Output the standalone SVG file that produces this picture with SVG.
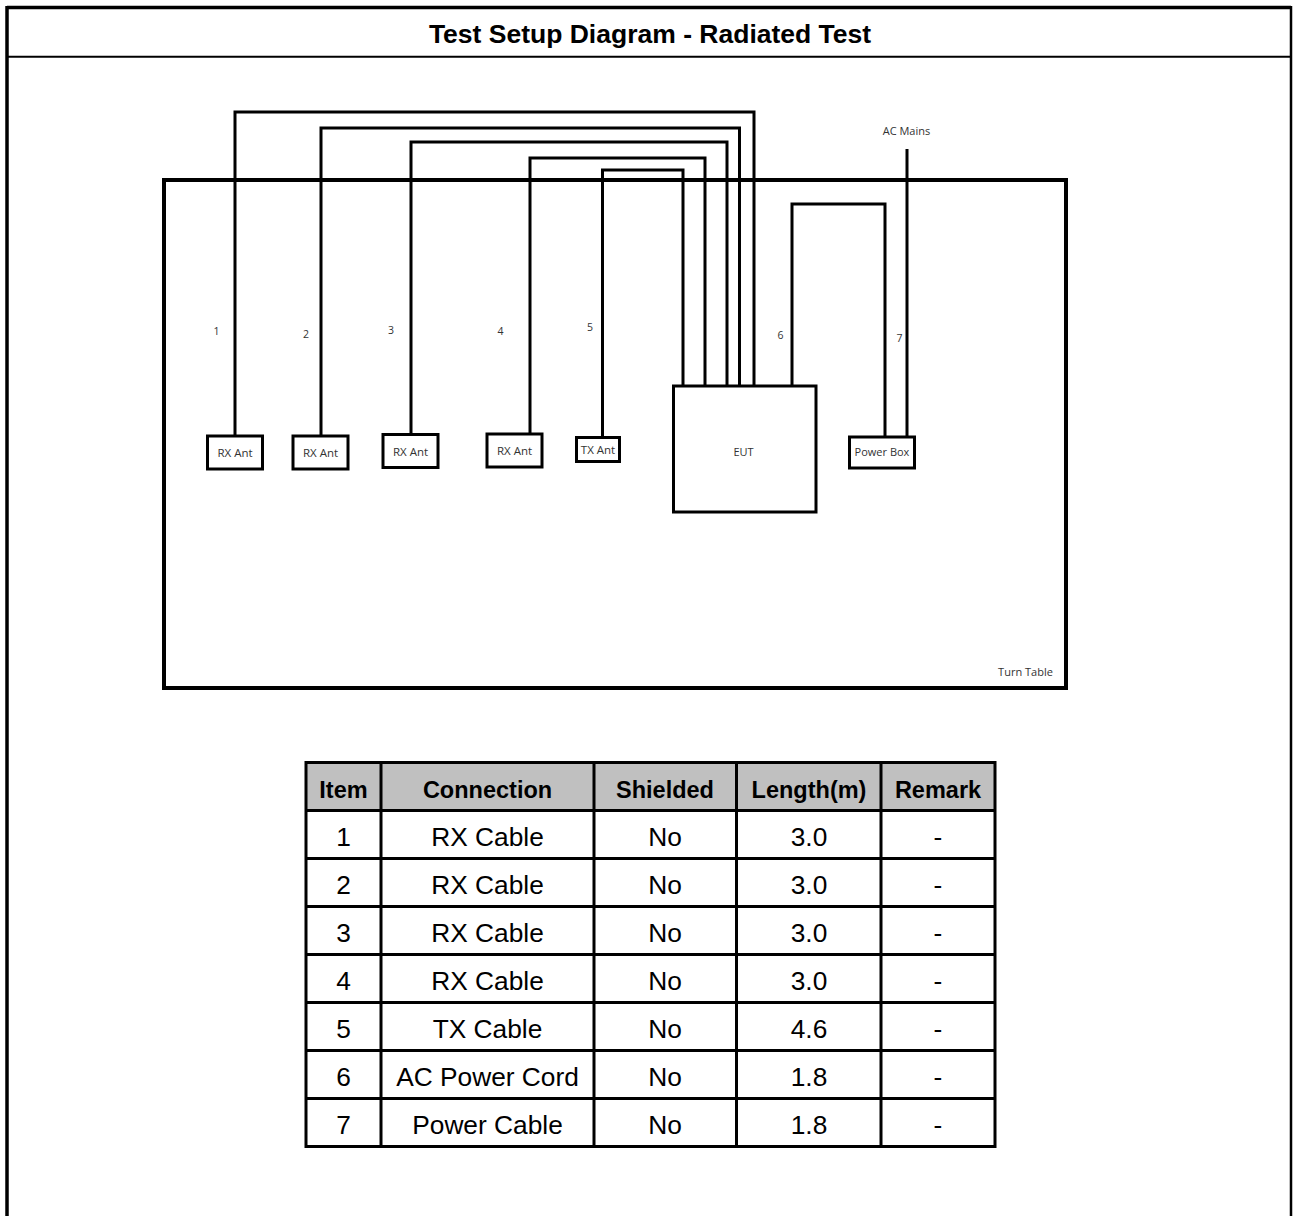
<svg xmlns="http://www.w3.org/2000/svg" width="1293" height="1216" viewBox="0 0 1293 1216">
<style>
.frame{fill:none;stroke:#000}
.box{fill:#fff;stroke:#000;stroke-width:3}
.cable{fill:none;stroke:#000;stroke-width:3}
.lbl{font-family:"Open Sans","Noto Sans",sans-serif;font-size:11px;fill:#333;text-anchor:middle;dominant-baseline:central}
.ant{font-size:11.5px}
.num{font-family:"Open Sans","Noto Sans",sans-serif;font-size:10.5px;fill:#333;text-anchor:middle;dominant-baseline:central}
.title{font-family:"Liberation Sans",Arial,sans-serif;font-size:26.5px;font-weight:bold;fill:#000;text-anchor:middle}
.th{font-family:"Liberation Sans",Arial,sans-serif;font-size:23.5px;font-weight:bold;fill:#000;text-anchor:middle}
.td{font-family:"Liberation Sans",Arial,sans-serif;font-size:26.3px;fill:#000;text-anchor:middle}
.grid{stroke:#000;stroke-width:3;fill:none}
</style>
<rect width="1293" height="1216" fill="#fff"/>
<g id="frame">
<line x1="7" y1="7.5" x2="1291" y2="7.5" class="frame" stroke-width="3.5"/>
<line x1="7" y1="6" x2="7" y2="1216" class="frame" stroke-width="3.5"/>
<line x1="1291" y1="6" x2="1291" y2="1216" class="frame" stroke-width="2.5"/>
<line x1="7" y1="56.7" x2="1291" y2="56.7" class="frame" stroke-width="2"/>
<text x="650" y="42.5" class="title">Test Setup Diagram - Radiated Test</text>
</g>
<g id="turntable">
<rect x="164" y="180" width="902" height="508" fill="none" stroke="#000" stroke-width="4"/>
<text x="1025.5" y="671" class="lbl">Turn Table</text>
</g>
<g id="connectors">
<path class="cable" d="M235,436 V112 H754 V386"/>
<path class="cable" d="M321,436 V128 H739.5 V386"/>
<path class="cable" d="M411,434.5 V142 H727 V386"/>
<path class="cable" d="M530,434 V158 H705 V386"/>
<path class="cable" d="M602.5,437.5 V170 H683 V386"/>
<path class="cable" d="M792,386 V204 H885 V437"/>
<path class="cable" d="M907,149 V437"/>
<text x="216.5" y="331" class="num">1</text>
<text x="306" y="333.5" class="num">2</text>
<text x="391" y="330" class="num">3</text>
<text x="500.5" y="330.5" class="num">4</text>
<text x="590" y="327" class="num">5</text>
<text x="780.5" y="335" class="num" font-size="9.5">6</text>
<text x="899.5" y="338" class="num" font-size="9.5">7</text>
<text x="906.5" y="130.5" class="lbl">AC Mains</text>
</g>
<g id="rx1"><rect class="box" x="207.5" y="436" width="55" height="33"/><text x="235" y="452.5" class="lbl ant">RX Ant</text></g>
<g id="rx2"><rect class="box" x="293" y="436" width="55" height="33"/><text x="320.5" y="452.5" class="lbl ant">RX Ant</text></g>
<g id="rx3"><rect class="box" x="383" y="434.5" width="55" height="33"/><text x="410.5" y="451" class="lbl ant">RX Ant</text></g>
<g id="rx4"><rect class="box" x="487" y="434" width="55" height="33"/><text x="514.5" y="450.5" class="lbl ant">RX Ant</text></g>
<g id="tx"><rect class="box" x="576.5" y="437.5" width="43" height="24"/><text x="598" y="449.5" class="lbl ant">TX Ant</text></g>
<g id="eut"><rect class="box" x="673.5" y="386" width="142.5" height="126"/><text x="743.5" y="451" class="lbl">EUT</text></g>
<g id="powerbox"><rect class="box" x="849.5" y="437" width="65" height="31"/><text x="882" y="451" class="lbl">Power Box</text></g>
<g id="table">
<rect x="306" y="762.5" width="689" height="48" fill="#c0c0c0"/>
<rect x="306" y="762.5" width="689" height="384" class="grid"/>
<path class="grid" d="M381,762.5 V1146.5 M594,762.5 V1146.5 M736.5,762.5 V1146.5 M881,762.5 V1146.5 M306,810.5 H995 M306,858.5 H995 M306,906.5 H995 M306,954.5 H995 M306,1002.5 H995 M306,1050.5 H995 M306,1098.5 H995"/>
<text x="343.5" y="798" class="th">Item</text>
<text x="487.5" y="798" class="th">Connection</text>
<text x="665" y="798" class="th">Shielded</text>
<text x="809" y="798" class="th">Length(m)</text>
<text x="938" y="798" class="th">Remark</text>
<g class="td">
<text x="343.5" y="846">1</text><text x="487.5" y="846">RX Cable</text><text x="665" y="846">No</text><text x="809" y="846">3.0</text><text x="938" y="846">-</text>
<text x="343.5" y="894">2</text><text x="487.5" y="894">RX Cable</text><text x="665" y="894">No</text><text x="809" y="894">3.0</text><text x="938" y="894">-</text>
<text x="343.5" y="942">3</text><text x="487.5" y="942">RX Cable</text><text x="665" y="942">No</text><text x="809" y="942">3.0</text><text x="938" y="942">-</text>
<text x="343.5" y="990">4</text><text x="487.5" y="990">RX Cable</text><text x="665" y="990">No</text><text x="809" y="990">3.0</text><text x="938" y="990">-</text>
<text x="343.5" y="1038">5</text><text x="487.5" y="1038">TX Cable</text><text x="665" y="1038">No</text><text x="809" y="1038">4.6</text><text x="938" y="1038">-</text>
<text x="343.5" y="1086">6</text><text x="487.5" y="1086">AC Power Cord</text><text x="665" y="1086">No</text><text x="809" y="1086">1.8</text><text x="938" y="1086">-</text>
<text x="343.5" y="1134">7</text><text x="487.5" y="1134">Power Cable</text><text x="665" y="1134">No</text><text x="809" y="1134">1.8</text><text x="938" y="1134">-</text>
</g>
</g>
</svg>
